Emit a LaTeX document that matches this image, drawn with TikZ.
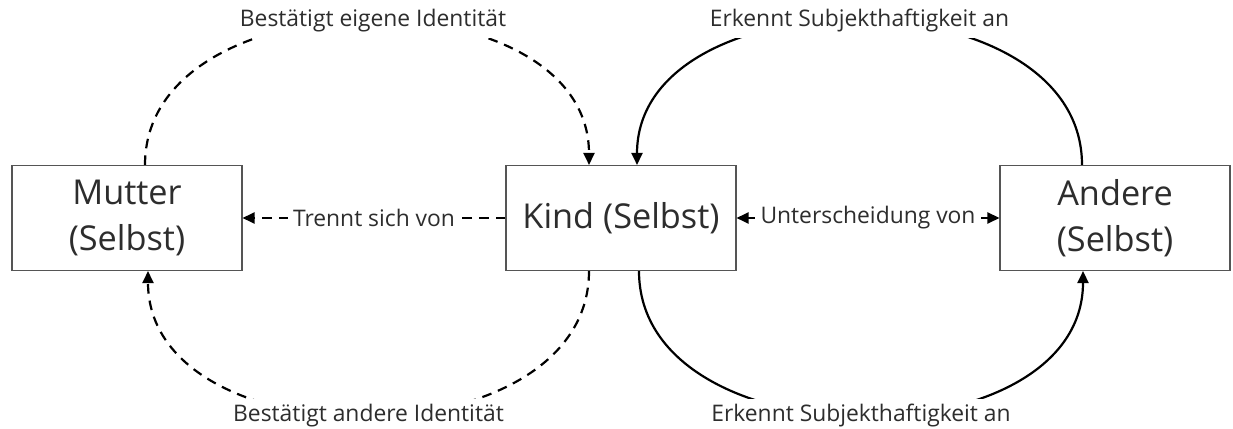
\documentclass[tikz,border=0pt]{standalone}
\usepackage{fontspec}
\setmainfont{Open Sans}
\usetikzlibrary{arrows.meta,positioning}
\definecolor{selfgray}{RGB}{85,85,85}
\definecolor{selftext}{RGB}{45,45,45}

\begin{document}
\begin{tikzpicture}[
  self/.style={draw=selfgray,line width=0.6pt,fill=white,
               minimum width=4.6cm,minimum height=2.1cm,
               align=center,text=selftext,
               font=\fontsize{19.5}{26}\selectfont},
  lbl/.style={fill=white,text=selftext,inner sep=3pt,
              font=\fontsize{13}{16}\selectfont},
  arr/.style={-{Triangle[length=0.24cm,width=0.22cm]},line width=1.25pt,black},
  darr/.style={arr,dash pattern=on 5.5pt off 4pt}
]
  \useasboundingbox (0,-4.22) rectangle (24.66,4.36);

  \node[self] (mutter) at (2.54,0)  {Mutter\\(Selbst)};
  \node[self] (kind)   at (12.42,0) {Kind (Selbst)};
  \node[self] (andere) at (22.3,0)  {Andere\\(Selbst)};

  % straight links
  \draw[darr] (kind) -- node[lbl] {Trennt sich von} (mutter);
  \draw[arr,{Triangle[length=0.24cm,width=0.22cm]}-{Triangle[length=0.24cm,width=0.22cm]}]
        (kind) -- node[lbl] {Unterscheidung von} (andere);

  % arches over the top
  \draw[darr] ([xshift=0.36cm]mutter.north)
        .. controls +(0,3.84) and +(0,3.84) ..
        node[lbl,pos=0.5,xshift=0.12cm] {Bestätigt eigene Identität}
        ([xshift=-0.64cm]kind.north);
  \draw[arr] ([xshift=-0.66cm]andere.north)
        .. controls +(0,3.84) and +(0,3.84) ..
        node[lbl,pos=0.5] {Erkennt Subjekthaftigkeit an}
        ([xshift=0.32cm]kind.north);

  % arches underneath
  \draw[darr] ([xshift=-0.64cm]kind.south)
        .. controls +(0,-3.85) and +(0,-3.85) ..
        node[lbl,pos=0.5] {Bestätigt andere Identität}
        ([xshift=0.42cm]mutter.south);
  \draw[arr] ([xshift=0.36cm]kind.south)
        .. controls +(0,-3.85) and +(0,-3.85) ..
        node[lbl,pos=0.5] {Erkennt Subjekthaftigkeit an}
        ([xshift=-0.64cm]andere.south);
\end{tikzpicture}
\end{document}
